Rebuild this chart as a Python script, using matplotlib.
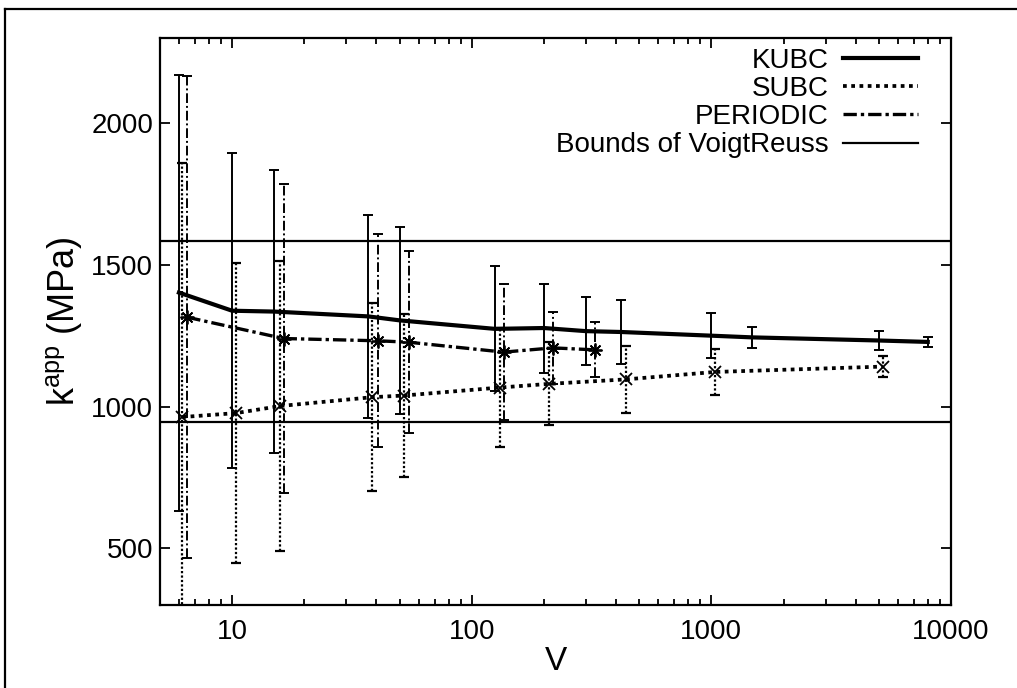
import matplotlib.pyplot as plt
from matplotlib.lines import Line2D
from matplotlib.ticker import NullFormatter, LogLocator

# values
KUBC_V = [6, 10, 15, 37, 50, 125, 200, 300, 420, 1000, 1480, 5000, 8000]
KUBC_K = [1402, 1338, 1335, 1318, 1304, 1274, 1277, 1266, 1263, 1250, 1244, 1233, 1228]
KUBC_SD = [769, 556, 500, 357, 330, 220, 157, 119, 112, 80, 37, 32, 17]

SUBC_V = [6.2, 10.4, 15.9, 38.4, 52.3, 130.6, 209.8, 441.8, 1033, 5190]
SUBC_K = [963, 977, 1002, 1033, 1039, 1067, 1080, 1096, 1122, 1141]
SUBC_SD = [895, 530, 511, 332, 287, 211, 146, 119, 81, 38]

PER_V = [6.5, 16.4, 40.5, 54.5, 136, 218, 327]
PER_K = [1315, 1240, 1232, 1227, 1192, 1207, 1200]
PER_SD = [850, 545, 375, 322, 240, 127, 97]

VOIGT = 1583
REUSS = 946

Y_TICKS = [500, 1000, 1500, 2000]
X_TICKS = [10, 100, 1000, 10000]
X_TICK_LABELS = ["10", "100", "1000", "10000"]

plt.rcParams.update({
    "font.family": ["Liberation Sans", "DejaVu Sans"],
    "font.size": 20,
    "axes.linewidth": 1.6,
})

fig = plt.figure(figsize=(10.17, 6.88), dpi=100)
ax = fig.add_axes([0.1573, 0.1206, 0.7778, 0.8242])

DOT = (0, (1, 1.2))
DASHDOT = (0, (4, 1.2, 1, 1.2))


def draw_series(v, k, sd, ls, lw, marker, ms, bar_ls, bar_lw):
    _, caps, bars = ax.errorbar(v, k, yerr=sd, fmt="none", ecolor="black",
                                elinewidth=bar_lw, capsize=3.5, capthick=bar_lw, zorder=2)
    for b in bars:
        b.set_linestyle(bar_ls)
    ax.plot(v, k, color="black", ls=ls, lw=lw, marker=marker, ms=ms,
            mew=1.3, mfc="none", zorder=3)


draw_series(KUBC_V, KUBC_K, KUBC_SD, "-", 3.0, None, 0, "-", 1.4)
draw_series(SUBC_V, SUBC_K, SUBC_SD, DOT, 2.7, "x", 8, (0, (1, 1)), 1.6)
draw_series(PER_V, PER_K, PER_SD, DASHDOT, 2.4, (8, 2, 0), 10, (0, (5, 1.5, 1, 1.5)), 1.4)

ax.axhline(VOIGT, color="black", lw=1.6, zorder=1)
ax.axhline(REUSS, color="black", lw=1.6, zorder=1)

ax.set_xscale("log")
ax.set_xlim(5, 10000)
ax.set_ylim(300, 2300)
ax.set_xticks(X_TICKS)
ax.set_xticklabels(X_TICK_LABELS)
ax.xaxis.set_minor_locator(LogLocator(base=10, subs=range(2, 10)))
ax.xaxis.set_minor_formatter(NullFormatter())
ax.set_yticks(Y_TICKS)
ax.tick_params(which="both", direction="in", top=True, right=True, width=1.3)
ax.tick_params(which="major", length=7)
ax.tick_params(axis="x", which="major", pad=10)
ax.tick_params(axis="y", which="major", pad=5)
ax.tick_params(which="minor", length=4)

ax.set_xlabel("V", fontsize=24, labelpad=1)
ax.set_ylabel(r"k$^{\mathregular{app}}$ (MPa)", fontsize=26, labelpad=5)

handles = [
    Line2D([], [], color="black", lw=3.0),
    Line2D([], [], color="black", lw=2.7, ls=DOT),
    Line2D([], [], color="black", lw=2.4, ls=DASHDOT),
    Line2D([], [], color="black", lw=1.6),
]
labels = ["KUBC", "SUBC", "PERIODIC", "Bounds of VoigtReuss"]
ax.legend(handles, labels, loc="upper right", bbox_to_anchor=(0.958, 0.983),
          frameon=False, markerfirst=False, handlelength=2.7, handletextpad=0.5,
          labelspacing=0.08, borderpad=0, borderaxespad=0, fontsize=20)

# outer frame lines of the original figure
fig.add_artist(Line2D([0.005, 0.005], [0.0, 0.987], transform=fig.transFigure, color="black", lw=1.6))
fig.add_artist(Line2D([0.005, 1.0], [0.987, 0.987], transform=fig.transFigure, color="black", lw=1.6))

fig.savefig("out.png", dpi=100)
